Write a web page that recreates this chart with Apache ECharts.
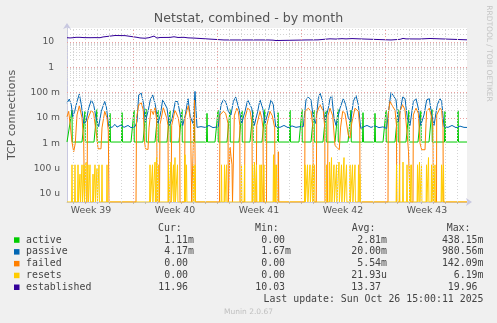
<!DOCTYPE html>
<html><head><meta charset="utf-8">
<script src="https://cdn.jsdelivr.net/npm/echarts@6/dist/echarts.min.js"></script>
<style>html,body{margin:0;padding:0;background:#f0f0f0}#c{width:497px;height:323px}</style>
</head><body><div id="c"></div>
<script>
// x values: hours since Mon 22 Sep 2025 00:00
const X_MIN = 36, X_MAX = 836;
const Y_MIN = 4.77e-6, Y_MAX = 35;
const weekCenters = [84, 252, 420, 588, 756];
const weekLabels = ['Week 39', 'Week 40', 'Week 41', 'Week 42', 'Week 43'];

const activeData = [[36,0.00111],[40,0.00111],[46,0.02],[46.5,0.00111],[66,0.00111],[72,0.018],[72.5,0.00111],[90,0.00111],[96,0.021],[96.5,0.00111],[121,0.00111],[122,0.015],[123,0.00111],[145,0.00111],[146,0.016],[147,0.00111],[164,0.00111],[170,0.02],[170.5,0.00111],[188,0.00111],[194,0.022],[194.5,0.00111],[212,0.00111],[218,0.02],[218.5,0.00111],[236,0.00111],[242,0.019],[242.5,0.00111],[260,0.00111],[266,0.021],[266.5,0.00111],[289,0.00111],[290,0.016],[291,0.00111],[315,0.00111],[316,0.015],[317,0.00111],[332,0.00111],[338,0.02],[338.5,0.00111],[356,0.00111],[362,0.021],[362.5,0.00111],[380,0.00111],[386,0.019],[386.5,0.00111],[402,0.00111],[408,0.02],[408.5,0.00111],[426,0.00111],[432,0.021],[432.5,0.00111],[457,0.00111],[458,0.016],[459,0.00111],[481,0.00111],[482,0.02],[483,0.00111],[500,0.00111],[506,0.021],[506.5,0.00111],[524,0.00111],[530,0.02],[530.5,0.00111],[548,0.00111],[554,0.019],[554.5,0.00111],[572,0.00111],[578,0.021],[578.5,0.00111],[598,0.00111],[604,0.02],[604.5,0.00111],[627,0.00111],[628,0.016],[629,0.00111],[651,0.00111],[652,0.015],[653,0.00111],[668,0.00111],[674,0.02],[674.5,0.00111],[692,0.00111],[698,0.021],[698.5,0.00111],[714,0.00111],[720,0.02],[720.5,0.00111],[738,0.00111],[744,0.019],[744.5,0.00111],[760,0.00111],[766,0.021],[766.5,0.00111],[791,0.00111],[792,0.018],[793,0.00111],[817,0.00111],[818,0.019],[819,0.00111],[836,0.00111]];

const passiveData = [[36,0.038],[40.6,0.055],[44.6,0.033],[47.4,0.011],[51.4,0.018],[56,0.044],[60.6,0.086],[64.6,0.033],[69.4,0.0061],[74,0.007],[79.4,0.024],[84.6,0.051],[89.4,0.033],[94,0.010],[99.4,0.0045],[104.6,0.018],[111.4,0.044],[114.6,0.028],[119.4,0.0045],[126,0.0042],[132,0.0055],[136,0.0043],[144,0.0052],[150,0.0042],[158,0.005],[164,0.0041],[172,0.0045],
[176,0.007],[179.4,0.08],[184.6,0.094],[189.4,0.033],[192.6,0.007],[198,0.018],[202.6,0.051],[207.4,0.08],[212.6,0.033],[218,0.006],[222.6,0.013],[227.4,0.051],[231.4,0.057],[236,0.024],[240.6,0.005],[246,0.009],[252.6,0.044],[257.4,0.044],[262.6,0.013],[267.4,0.005],[272.6,0.013],[278,0.057],[282.6,0.011],[288,0.006],[292,0.11],[296,0.0042],[304,0.0045],[312,0.0042],[320,0.005],[328,0.0041],[334,0.0043],
[338.6,0.0045],[344,0.033],[348.6,0.051],[353.4,0.044],[358.6,0.018],[364,0.013],[368.6,0.044],[373.4,0.066],[377.4,0.076],[380.6,0.02],[385.4,0.006],[392,0.018],[397.4,0.051],[400.6,0.057],[405.4,0.024],[410.6,0.005],[417.4,0.018],[422,0.051],[427.4,0.024],[432,0.006],[438.6,0.018],[444,0.051],[448.6,0.033],[453.4,0.0045],[462,0.0042],[470,0.005],[478,0.0041],[486,0.0048],[494,0.0042],[502,0.0045],
[508.6,0.0045],[514,0.051],[518.6,0.066],[524,0.051],[528.6,0.01],[533.4,0.006],[538.6,0.057],[542,0.094],[546.6,0.051],[552,0.007],[558.6,0.024],[562,0.057],[565.4,0.076],[570,0.01],[574,0.005],[582,0.024],[588.6,0.057],[593.4,0.033],[598.6,0.01],[603.4,0.007],[608.6,0.044],[614,0.076],[618.6,0.033],[623.4,0.0038],[630,0.0045],[636,0.005],[644,0.0042],[652,0.0048],[660,0.0041],[668,0.0044],
[675.4,0.0038],[680.6,0.033],[684,0.1],[688.6,0.076],[694,0.051],[698.6,0.007],[703.4,0.024],[707.4,0.066],[712,0.057],[716.6,0.01],[722,0.005],[728.6,0.044],[734,0.057],[738.6,0.024],[743.4,0.005],[750,0.013],[755.4,0.051],[760.6,0.057],[765.4,0.013],[770,0.005],[776.6,0.033],[782,0.057],[785.4,0.044],[790,0.0045],[798,0.0042],[806,0.005],[814,0.0041],[822,0.0047],[830,0.0042],[836,0.00417]];

const failedData = [[36,0.011],[39.4,0.018],[43,0.004],[46,0.0011],[49.4,0.00046],[52.6,0.001],[56,0.013],[60.6,0.03],[66,0.010],[69.4,0.0012],[71,0],[76,0],[77,0.008],[80,0.012],[84.6,0.02],[89.4,0.015],[93,0.004],[96,0.0016],[98,0.0006],[104,0.0006],[106,0.004],[111.4,0.018],[116,0.01],[118.6,0.003],[120,0],
[174,0],[175,0.01],[179.4,0.033],[184.6,0.039],[188.6,0.02],[191,0.0012],[193,0.0006],[198,0.00056],[200,0.004],[204,0.022],[208.6,0.0135],[212,0.025],[215.4,0.008],[216.6,0],[221,0],[222,0.0054],[228.6,0.025],[235.4,0.01],[238,0.005],[238.6,0],[244,0],[245.4,0.005],[252,0.02],[258.6,0.01],[261.4,0.004],[262,0],[271,0],[272,0.01],[278.6,0.03],[283,0.008],[285.4,0],[289,0],[291,0.05],[293,0],
[341,0],[342,0.013],[348.6,0.018],[353.4,0.015],[358,0.006],[358.6,0],[361,0],[362,0.0007],[364,0.0003],[366,0.00014],[367,0],[370,0],[370.6,0.012],[375.4,0.024],[378.6,0.018],[381.6,0.005],[382,0],[391,0],[392,0.01],[397.4,0.024],[402,0.02],[406,0.006],[406.6,0],[414.4,0],[415.4,0.005],[422,0.018],[425.4,0.01],[428,0.004],[428.6,0],[435,0],[435.4,0.005],[442,0.018],[446.6,0.012],[451.4,0.004],[452,0],[458,0],[458.6,0.00046],[459.6,0],
[511.4,0],[512,0.018],[518.6,0.024],[524,0.018],[528,0.004],[528.6,0],[534.6,0],[535.4,0.015],[542,0.033],[548.6,0.018],[551.6,0.004],[552,0],[557,0],[558,0.012],[562,0.024],[567.4,0.012],[572,0.0008],[580.6,0.00055],[583,0.004],[587.4,0.018],[592,0.015],[598.6,0.0021],[602,0.0016],[605.4,0.006],[612,0.024],[618.6,0.018],[621.6,0.004],[622,0],
[678,0],[678.6,0.015],[682,0.044],[687.4,0.028],[692,0.02],[695,0.005],[695.4,0],[701,0],[702,0.018],[707.4,0.033],[712,0.02],[716.6,0.002],[719,0.00046],[722,0],[728,0],[728.6,0.013],[734,0.024],[738.6,0.015],[742,0.001],[745.4,0.00055],[752,0.00055],[754,0.006],[755.4,0.018],[760.6,0.024],[765.4,0.01],[768,0.004],[768.6,0],[775,0],[775.4,0.013],[782,0.024],[785.4,0.02],[788,0.004],[788.6,0],[836,0]];

const resetsData = [[36,0],
[45.2,0],[46,1.4e-4],[46.8,0],[51.2,0],[52,1.4e-4],[52.8,0],[57.2,0],[58,1.4e-4],[58.8,0],[61.2,0],[62,6e-5],[62.8,0],[65.2,0],[66,1.4e-4],[66.8,0],[69.2,0],[70,1.4e-4],[70.8,0],[73.2,0],[74,1.8e-4],[74.8,0],[77.2,0],[78,1.4e-4],[78.8,0],[81.2,0],[82,1.4e-4],[82.8,0],[87.2,0],[88,6e-5],[88.8,0],[91.2,0],[92,1.4e-4],[92.8,0],[95.2,0],[96,1e-4],[96.8,0],[99.2,0],[100,1.4e-4],[100.8,0],[105.2,0],[106,1.4e-4],[106.8,0],[115.2,0],[116,1.4e-4],[116.8,0],
[201.2,0],[202,1.4e-4],[202.8,0],[206.2,0],[207,1.4e-4],[207.8,0],[211.2,0],[212,1.8e-4],[212.8,0],[214.2,0],[215,2.7e-4],[215.8,0],[218.2,0],[219,1.4e-4],[219.8,0],[238.2,0],[239,1.4e-4],[239.8,0],[243.2,0],[244,1.8e-4],[244.8,0],[248.2,0],[249,1.4e-4],[249.8,0],[251.2,0],[252,2.7e-4],[252.8,0],[256.2,0],[257,1.4e-4],[257.8,0],[271.2,0],[272,3.5e-4],[272.8,0],[274.2,0],[275,1.4e-4],[275.8,0],[288.2,0],[289,1.4e-4],[289.8,0],[291.2,0],[292,1.4e-4],[292.8,0],
[344.2,0],[345,1.4e-4],[345.8,0],[350.2,0],[351,1.4e-4],[351.8,0],[354.2,0],[355,1.4e-4],[355.8,0],[384.2,0],[385,1.4e-4],[385.8,0],[390.2,0],[391,1.4e-4],[391.8,0],[406.2,0],[407,1.4e-4],[407.8,0],[410.2,0],[411,1.8e-4],[411.8,0],[414.2,0],[415,1.4e-4],[415.8,0],[421.2,0],[422,1.4e-4],[422.8,0],[424.2,0],[425,1.4e-4],[425.8,0],[429.2,0],[430,1.4e-4],[430.8,0],[448.2,0],[449,3.5e-4],[449.8,0],[451.2,0],[452,1.4e-4],[452.8,0],[454.2,0],[455,1.4e-4],[455.8,0],
[511.2,0],[512,1.4e-4],[512.8,0],[516.2,0],[517,1.4e-4],[517.8,0],[521.2,0],[522,1.4e-4],[522.8,0],[526.2,0],[527,1.4e-4],[527.8,0],[530.2,0],[531,1.4e-4],[531.8,0],[554.2,0],[555,1.4e-4],[555.8,0],[560.2,0],[561,1.8e-4],[561.8,0],[564.2,0],[565,2.7e-4],[565.8,0],[569.2,0],[570,1.4e-4],[570.8,0],[574.2,0],[575,1.4e-4],[575.8,0],[579.2,0],[580,1.8e-4],[580.8,0],[584.2,0],[585,1.4e-4],[585.8,0],[589.2,0],[590,2.7e-4],[590.8,0],[594.2,0],[595,1.4e-4],[595.8,0],[601.2,0],[602,1.4e-4],[602.8,0],[606.2,0],[607,1.4e-4],[607.8,0],[611.2,0],[612,1.4e-4],[612.8,0],[618.2,0],[619,1.4e-4],[619.8,0],[621.2,0],[622,6e-5],[622.8,0],
[694.2,0],[695,1.4e-4],[695.8,0],[700.2,0],[701,1.4e-4],[701.8,0],[707.2,0],[708,1.8e-4],[708.8,0],[715.2,0],[716,1.4e-4],[716.8,0],[721.2,0],[722,1.4e-4],[722.8,0],[724.2,0],[725,1.4e-4],[725.8,0],[736.2,0],[737,1.4e-4],[737.8,0],[740.2,0],[741,1.8e-4],[741.8,0],[744.2,0],[745,1.4e-4],[745.8,0],[754.2,0],[755,1.4e-4],[755.8,0],[758.2,0],[759,2.7e-4],[759.8,0],[764.2,0],[765,1.4e-4],[765.8,0],[768.2,0],[769,1.4e-4],[769.8,0],[771.2,0],[772,1.4e-4],[772.8,0],[784.2,0],[785,1.4e-4],[785.8,0],[788.2,0],[789,1.4e-4],[789.8,0],
[836,0]];

const establishedData = [[36,14.5],[42,14.2],[48,14.5],[54,15.0],[58,15.5],[62,15.0],[70,14.6],[82,14.5],[92,14.6],[102,14.5],[108,15.5],[110,17.6],[132,17.7],[152,17.5],[156,15.2],[176,15.0],[182,14.2],[192,13.8],[200,14.5],[204,16.8],[210,16.8],[216,14.0],[222,14.8],[242,14.9],[250,15.8],[258,14.8],[270,15.0],[278,14.3],[290,14.0],[294,11.8],[350,11.8],[352,12.3],[354,11.8],[438,11.8],[442,11.2],[448,11.6],[454,11.2],[458,11.8],[514,11.8],[516,12.3],[518,11.8],[538,11.9],[540,12.8],[552,12.6],[562,13.1],[574,12.8],[586,13.3],[594,13.0],[606,13.4],[618,13.1],[622,11.8],[684,11.8],[688,12.8],[702,12.5],[708,13.6],[714,13.0],[742,12.9],[762,13.5],[766,11.9],[836,11.96]];

const legendNames = ['active', 'passive', 'failed', 'resets', 'established'];
const legendColors = ['#00cc00', '#0066b3', '#ff8000', '#ffcc00', '#330099'];
const curVals = ['1.11m', '4.17m', '0.00 ', '0.00 ', '11.96 '];
const minVals = ['0.00 ', '1.67m', '0.00 ', '0.00 ', '10.03 '];
const avgVals = ['2.81m', '20.00m', '5.54m', '21.93u', '13.37 '];
const maxVals = ['438.15m', '980.56m', '142.09m', '6.19m', '19.96 '];

// ---- rendering ----
const floorZero = arr => arr.map(p => [p[0], p[1] === 0 ? Y_MIN : p[1]]);
const gridLines = [];
const minorStyle = { color: '#d4d4d4', type: [1, 2], width: 1 };
const majorStyle = { color: '#eaa0a0', type: [1, 2], width: 1 };
for (let h = 48; h < X_MAX; h += 24) {
  gridLines.push({ xAxis: h, lineStyle: (h % 168 === 0) ? majorStyle : minorStyle });
}
for (let e = -6; e <= 1; e++) {
  for (let m = 1; m <= 9; m++) {
    const v = m * Math.pow(10, e);
    if (v > Y_MIN * 1.02 && v < Y_MAX * 0.98) {
      gridLines.push({ yAxis: v, lineStyle: m === 1 ? majorStyle : minorStyle });
    }
  }
}
const dayTicks = [];
for (let h = 48; h < X_MAX; h += 24) dayTicks.push(h);

function yLabel(v) {
  const e = Math.log10(v);
  const r = Math.round(e);
  if (Math.abs(e - r) > 1e-6) return '';
  if (r >= 0) return String(Math.pow(10, r)) + '  ';
  if (r >= -3) return String(Math.pow(10, r + 3)) + ' m';
  return String(Math.pow(10, r + 6)) + ' u';
}

const chart = echarts.init(document.getElementById('c'), null, { renderer: 'canvas' });
const txt = '#555';
const graphics = [
  { type: 'text', x: 248.5, y: 19, style: { text: 'Netstat, combined - by month', font: '12.6px "DejaVu Sans"', fill: '#555', textAlign: 'center', textVerticalAlign: 'middle' } },
  { type: 'text', x: 12, y: 115, rotation: Math.PI / 2, style: { text: 'TCP connections', font: '11px "DejaVu Sans"', fill: '#555', textAlign: 'center', textVerticalAlign: 'middle' } },
  { type: 'text', x: 488.5, y: 53.5, rotation: -Math.PI / 2, style: { text: 'RRDTOOL / TOBI OETIKER', font: '7.5px "DejaVu Sans"', fill: '#c4c4c4', textAlign: 'center', textVerticalAlign: 'middle' } },
  { type: 'text', x: 248.5, y: 312.5, style: { text: 'Munin 2.0.67', font: '7.5px "DejaVu Sans"', fill: '#c0c0c0', textAlign: 'center', textVerticalAlign: 'middle' } }
];
const mono = '9.9px "DejaVu Sans Mono"';
const rowY0 = 240.1, rowStep = 11.8;
[['Cur:', 158], ['Min:', 255], ['Avg:', 351.7], ['Max:', 446.7]].forEach(hd => {
  graphics.push({ type: 'text', x: hd[1], y: 228.3, style: { text: hd[0], font: mono, fill: '#444', textAlign: 'left', textVerticalAlign: 'middle' } });
});
legendNames.forEach((n, i) => {
  const y = rowY0 + i * rowStep;
  graphics.push({ type: 'rect', shape: { x: 14, y: y - 2.8, width: 5.5, height: 5.5 }, style: { fill: legendColors[i] } });
  graphics.push({ type: 'text', x: 26, y: y, style: { text: n, font: mono, fill: '#444', textAlign: 'left', textVerticalAlign: 'middle' } });
  [[curVals, 194], [minVals, 291], [avgVals, 387], [maxVals, 483.5]].forEach(col => {
    graphics.push({ type: 'text', x: col[1], y: y, style: { text: col[0][i], font: mono, fill: '#444', textAlign: 'right', textVerticalAlign: 'middle' } });
  });
});
graphics.push({ type: 'text', x: 483.5, y: rowY0 + 5 * rowStep, style: { text: 'Last update: Sun Oct 26 15:00:11 2025', font: mono, fill: '#444', textAlign: 'right', textVerticalAlign: 'middle' } });

const lineSeries = (name, data, color) => ({
  type: 'line', name, data: floorZero(data), showSymbol: false, symbol: 'none', clip: true,
  lineStyle: { color, width: 1 }, itemStyle: { color }, animation: false, z: 3
});

chart.setOption({
  backgroundColor: '#f0f0f0',
  animation: false,
  grid: { left: 67, right: 30, top: 28, bottom: 121, show: true, backgroundColor: '#ffffff', borderWidth: 0 },
  xAxis: {
    type: 'value', min: X_MIN, max: X_MAX,
    splitLine: { show: false },
    axisLine: { show: true, onZero: false, lineStyle: { color: '#c8c8e0' }, symbol: ['none', 'arrow'], symbolSize: [6, 6], symbolOffset: [0, 5] },
    axisTick: { show: true, customValues: dayTicks, length: 2, lineStyle: { color: '#bbbbbb' } },
    axisLabel: {
      customValues: weekCenters,
      formatter: v => { const i = weekCenters.findIndex(c => Math.abs(c - v) < 0.01); return i >= 0 ? weekLabels[i] : ''; },
      color: txt, fontFamily: 'DejaVu Sans', fontSize: 9.4, margin: 4
    }
  },
  yAxis: {
    type: 'log', logBase: 10, min: Y_MIN, max: Y_MAX,
    splitLine: { show: false },
    axisLine: { show: true, onZero: false, lineStyle: { color: '#c8c8e0' }, symbol: ['none', 'arrow'], symbolSize: [6, 6], symbolOffset: [0, 5] },
    axisTick: { show: false },
    axisLabel: { formatter: yLabel, color: txt, fontFamily: 'DejaVu Sans', fontSize: 9.2, margin: 7, showMinLabel: false, showMaxLabel: false }
  },
  graphic: graphics,
  series: [
    { type: 'line', name: 'grid', data: [[X_MIN, 1]], symbol: 'none', lineStyle: { width: 0, opacity: 0 }, z: 1, silent: true,
      markLine: { silent: true, symbol: ['none', 'none'], label: { show: false }, animation: false, data: gridLines } },
    lineSeries('active', activeData, '#00cc00'),
    lineSeries('passive', passiveData, '#0066b3'),
    lineSeries('failed', failedData, '#ff8000'),
    lineSeries('resets', resetsData, '#ffcc00'),
    lineSeries('established', establishedData, '#330099')
  ]
});
</script></body></html>
